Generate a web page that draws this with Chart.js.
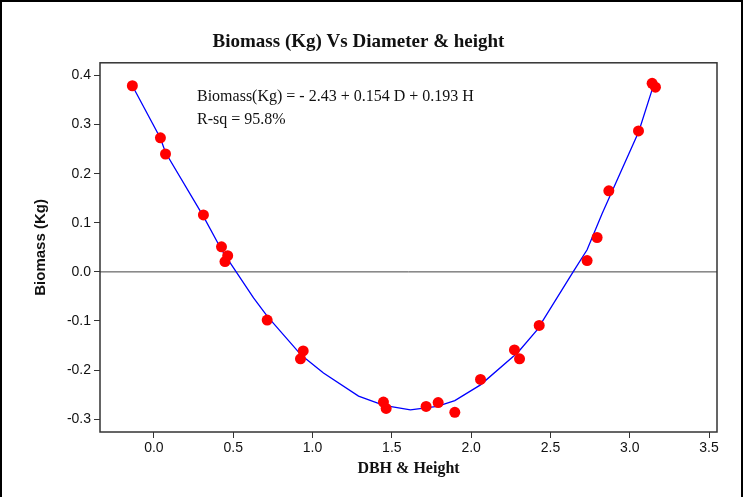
<!DOCTYPE html>
<html>
<head>
<meta charset="utf-8">
<script src="https://cdn.jsdelivr.net/npm/chart.js@4.4.1/dist/chart.umd.min.js"></script>
<style>
  body { margin: 0; background: #fff; }
  #wrap { width: 744px; height: 497px; position: relative; }
</style>
</head>
<body>
<div id="wrap"><canvas id="biomassChart"></canvas></div>
<script>
// observed points (DBH & Height vs Biomass)
const obsX = [-0.136, 0.041, 0.073, 0.312, 0.426, 0.465, 0.448, 0.714, 0.941, 0.924, 1.447, 1.464, 1.716, 1.792, 1.897, 2.059, 2.273, 2.305, 2.429, 2.731, 2.794, 2.868, 3.055, 3.141, 3.162];
const obsY = [0.379, 0.273, 0.240, 0.116, 0.051, 0.033, 0.021, -0.098, -0.161, -0.177, -0.265, -0.278, -0.274, -0.266, -0.286, -0.219, -0.159, -0.177, -0.109, 0.023, 0.070, 0.165, 0.287, 0.384, 0.376];

// fitted curve
const fitX = [-0.136, 0.041, 0.073, 0.312, 0.426, 0.465, 0.628, 0.714, 0.930, 1.069, 1.290, 1.450, 1.617, 1.786, 1.897, 2.059, 2.267, 2.305, 2.416, 2.637, 2.731, 2.826, 3.057, 3.141];
const fitY = [0.379, 0.272, 0.243, 0.113, 0.045, 0.026, -0.053, -0.090, -0.170, -0.206, -0.253, -0.272, -0.281, -0.274, -0.262, -0.230, -0.172, -0.160, -0.118, -0.003, 0.045, 0.119, 0.286, 0.371];

const xTicks = [0, 0.5, 1.0, 1.5, 2.0, 2.5, 3.0, 3.5];
const yTicks = [-0.3, -0.2, -0.1, 0, 0.1, 0.2, 0.3, 0.4];

const eqLines = ['Biomass(Kg) = - 2.43 + 0.154 D + 0.193 H', 'R-sq = 95.8%'];

const obsPoints = obsX.map((x, i) => ({x: x, y: obsY[i]}));
const fitPoints = fitX.map((x, i) => ({x: x, y: fitY[i]}));

const decorations = {
  id: 'decorations',
  beforeDatasetsDraw(chart) {
    const {ctx, chartArea, scales} = chart;
    const y0 = scales.y.getPixelForValue(0);
    ctx.save();
    ctx.strokeStyle = '#444';
    ctx.lineWidth = 1;
    ctx.beginPath();
    ctx.moveTo(chartArea.left, y0);
    ctx.lineTo(chartArea.right, y0);
    ctx.stroke();
    ctx.restore();
  },
  afterDraw(chart) {
    const {ctx, chartArea} = chart;
    ctx.save();
    ctx.strokeStyle = '#333';
    ctx.lineWidth = 1.5;
    ctx.strokeRect(chartArea.left, chartArea.top, chartArea.right - chartArea.left, chartArea.bottom - chartArea.top);
    // outer frame
    ctx.strokeStyle = '#000';
    ctx.lineWidth = 2;
    ctx.strokeRect(1, 1, 741, 510);
    // regression equation
    ctx.fillStyle = '#111';
    ctx.font = '16px "Liberation Serif", serif';
    ctx.textBaseline = 'middle';
    ctx.fillText(eqLines[0], chartArea.left + 97, chartArea.top + 34);
    ctx.fillText(eqLines[1], chartArea.left + 97, chartArea.top + 57);
    ctx.restore();
  }
};

new Chart(document.getElementById('biomassChart'), {
  type: 'scatter',
  data: {
    datasets: [{
      label: 'Observed',
      data: obsPoints,
      backgroundColor: '#ff0000',
      borderWidth: 0,
      pointRadius: 5.5
    }, {
      label: 'Fit',
      data: fitPoints,
      showLine: true,
      borderColor: '#0000ff',
      borderWidth: 1.3,
      pointRadius: 0,
      fill: false
    }]
  },
  options: {
    responsive: true,
    maintainAspectRatio: false,
    animation: false,
    layout: { padding: { top: 0, right: 27, bottom: 0, left: 0 } },
    plugins: {
      legend: { display: false },
      tooltip: { enabled: false },
      title: {
        display: true,
        text: 'Biomass (Kg) Vs Diameter & height',
        color: '#111',
        font: { family: '"Liberation Serif", serif', size: 19, weight: 'bold' },
        padding: { top: 31, bottom: 9 }
      }
    },
    scales: {
      x: {
        type: 'linear',
        min: -0.34,
        max: 3.55,
        afterBuildTicks: s => { s.ticks = xTicks.map(v => ({value: v})); },
        afterFit: s => { s.height = 65; },
        grid: { display: true, drawOnChartArea: false, tickLength: 6, color: '#333', lineWidth: 1 },
        border: { display: false },
        ticks: {
          color: '#111',
          font: { family: '"Liberation Sans", sans-serif', size: 14 },
          padding: 2,
          maxRotation: 0,
          callback: v => Number(v).toFixed(1)
        },
        title: {
          display: true,
          text: 'DBH & Height',
          color: '#111',
          font: { family: '"Liberation Serif", serif', size: 16, weight: 'bold' },
          padding: { top: 0, bottom: 19 }
        }
      },
      y: {
        type: 'linear',
        min: -0.326,
        max: 0.4257,
        afterBuildTicks: s => { s.ticks = yTicks.map(v => ({value: v})); },
        afterFit: s => { s.width = 100; },
        grid: { display: true, drawOnChartArea: false, tickLength: 6, color: '#333', lineWidth: 1 },
        border: { display: false },
        ticks: {
          color: '#111',
          font: { family: '"Liberation Sans", sans-serif', size: 14 },
          padding: 3,
          callback: v => Number(v).toFixed(1)
        },
        title: {
          display: true,
          text: 'Biomass (Kg)',
          color: '#111',
          font: { family: '"Liberation Sans", sans-serif', size: 15, weight: 'bold' },
          padding: { top: 32, bottom: 0 }
        }
      }
    }
  },
  plugins: [decorations]
});
</script>
</body>
</html>
